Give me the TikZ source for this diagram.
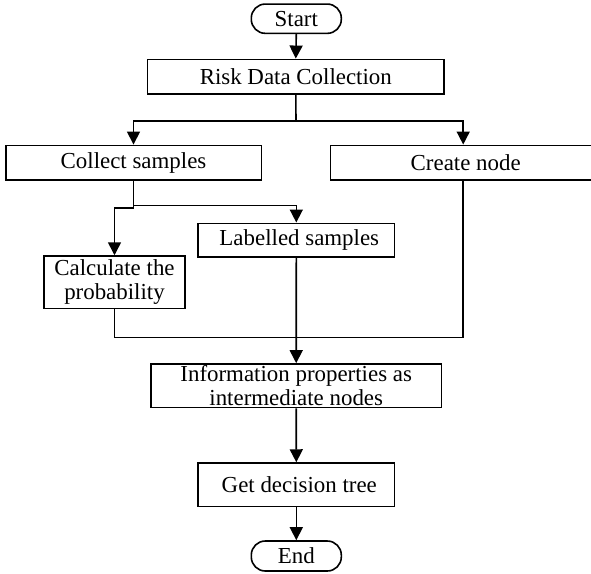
\documentclass[tikz,border=0pt]{standalone}
\usepackage{fontspec}
\setmainfont{Liberation Serif}
\usetikzlibrary{arrows.meta}
\begin{document}
\begin{tikzpicture}[x=1pt,y=-1pt,
  box/.style={draw, line width=1.6pt, rectangle, inner sep=0pt},
  term/.style={box, rounded corners=14pt},
  lbl/.style={align=center, inner sep=0pt, font=\fontsize{22.9}{24}\selectfont},
  arr/.style={line width=1.6pt, -{Triangle[length=13pt,width=13pt]}},
  ln/.style={line width=1.6pt}]
\useasboundingbox (0,0) rectangle (591,573);

\node[term, minimum width=90pt, minimum height=29.3pt, label={[lbl]center:Start}] (start) at (296.3,18.7) {};
\node[box, minimum width=296.3pt, minimum height=34.7pt, label={[lbl]center:Risk Data Collection}] (risk) at (295.8,76.7) {};
\node[box, minimum width=255.6pt, minimum height=34.7pt, label={[lbl]center:Collect samples}] (collect) at (133.5,162.7) {};
\node[box, minimum width=265.8pt, minimum height=34.7pt, label={[lbl,xshift=2.5pt]center:Create node}] (create) at (463.2,162.7) {};
\node[box, minimum width=141pt, minimum height=52.3pt, label={[lbl]center:{Calculate the\\probability}}] (calc) at (114.5,282.2) {};
\node[box, minimum width=196.5pt, minimum height=33.4pt, label={[lbl,xshift=3pt]center:Labelled samples}] (labelled) at (296.3,240) {};
\node[box, minimum width=290.3pt, minimum height=43.7pt, label={[lbl]center:{Information properties as\\intermediate nodes}}] (info) at (296.2,385.8) {};
\node[box, minimum width=196.7pt, minimum height=43.3pt, label={[lbl,xshift=3pt]center:Get decision tree}] (get) at (296.3,484.7) {};
\node[term, minimum width=90pt, minimum height=30pt, label={[lbl]center:End}] (end) at (296.3,556) {};

\coordinate (b1) at (296,121);
\draw[arr] (start.south) -- (risk.north);
\draw[ln] (risk.south) -- (b1);
\draw[arr] (b1) -| (collect.north);
\draw[arr] (b1) -| (create.north);
\draw[arr] (collect.south) -- ++(0,24.5) -| (labelled.north);
\draw[arr] (collect.south) -- ++(0,27) -| (calc.north);
\draw[ln] (calc.south) -- ++(0,28.2) -| (create.south);
\draw[arr] (labelled.south) -- (info.north);
\draw[arr] (info.south) -- (get.north);
\draw[arr] (get.south) -- (end.north);
\end{tikzpicture}
\end{document}
